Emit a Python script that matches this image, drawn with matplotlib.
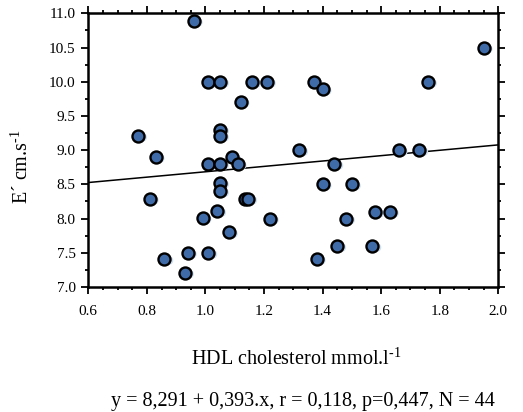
import matplotlib
matplotlib.use("Agg")
import matplotlib.pyplot as plt
from matplotlib.ticker import MultipleLocator, FormatStrFormatter
from matplotlib.transforms import offset_copy
import numpy as np

plt.rcParams['font.family'] = ['Liberation Serif', 'DejaVu Serif']
plt.rcParams['mathtext.fontset'] = 'custom'
plt.rcParams['mathtext.rm'] = 'Liberation Serif'

hdl = [0.96, 1.01, 1.05, 1.16, 1.21, 1.12, 1.05, 1.05, 0.77, 0.83,
       1.32, 1.01, 1.05, 1.09, 1.11, 1.05, 1.05, 0.81, 1.135, 1.146,
       1.04, 0.99, 1.22, 1.08, 0.94, 1.01, 0.86, 0.93, 1.95, 1.37,
       1.40, 1.76, 1.66, 1.73, 1.44, 1.40, 1.50, 1.58, 1.63, 1.48,
       1.45, 1.57, 1.38]
e_prime = [10.89, 10.0, 10.0, 10.0, 10.0, 9.71, 9.3, 9.21, 9.21, 8.9,
           9.0, 8.8, 8.8, 8.9, 8.8, 8.52, 8.4, 8.29, 8.29, 8.29,
           8.11, 8.01, 8.0, 7.8, 7.5, 7.5, 7.41, 7.21, 10.5, 10.0,
           9.89, 10.0, 9.0, 9.0, 8.8, 8.5, 8.5, 8.1, 8.1, 8.0,
           7.6, 7.6, 7.41]

intercept = 8.291
slope = 0.393

fig = plt.figure(figsize=(5.23, 4.12), dpi=100)
ax = fig.add_axes([0.1688, 0.3034, 0.784, 0.6643])

# regression line
xl = np.array([0.6, 2.0])
ax.plot(xl, intercept + slope * xl, color='black', lw=1.1, zorder=2)

# faint shadow to the lower right of each point
shadow = offset_copy(ax.transData, fig=fig, x=4.5, y=-1.5, units='dots')
ax.scatter(hdl, e_prime, s=40, marker='o', color='#cddff2', edgecolors='none',
           transform=shadow, zorder=3)
ax.scatter(hdl, e_prime, s=75, color='#3f6ca8', edgecolors='black',
           linewidths=1.7, zorder=4)

ax.set_xlim(0.6, 2.0)
ax.set_ylim(7.0, 11.0)
ax.xaxis.set_major_locator(MultipleLocator(0.2))
ax.xaxis.set_minor_locator(MultipleLocator(0.05))
ax.yaxis.set_major_locator(MultipleLocator(0.5))
ax.yaxis.set_minor_locator(MultipleLocator(0.25))
ax.xaxis.set_major_formatter(FormatStrFormatter('%.1f'))
ax.yaxis.set_major_formatter(FormatStrFormatter('%.1f'))

for s in ax.spines.values():
    s.set_linewidth(1.8)
ax.tick_params(which='both', direction='out', top=True, right=True,
               labeltop=False, labelright=False, width=1.3, labelsize=11)
ax.tick_params(which='major', length=5)
ax.tick_params(which='minor', length=2.5)
ax.tick_params(axis='x', which='major', pad=8)
ax.tick_params(axis='y', which='major', pad=4)

ax.set_xlabel('HDL cholesterol mmol.l$^{\\text{-1}}$', fontsize=14.5)
ax.xaxis.set_label_coords(0.507, -0.223)
ax.set_ylabel('E\u00b4 cm.s$^{\\text{-1}}$', fontsize=14.5)
ax.yaxis.set_label_coords(-0.135, 0.44)

fig.text(0.579, 0.026, 'y = 8,291 + 0,393.x, r = 0,118, p=0,447, N = 44',
         ha='center', va='center', fontsize=14.5)

fig.savefig('out.png', dpi=100)
